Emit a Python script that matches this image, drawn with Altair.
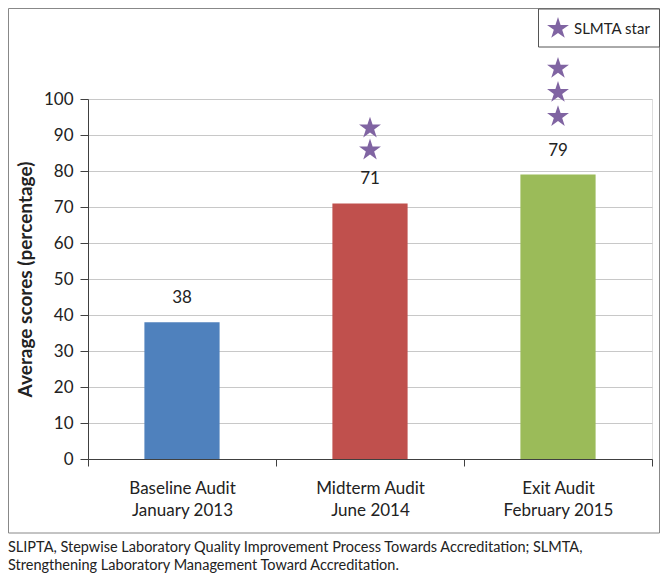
import altair as alt
import pandas as pd

# ---- data ----
audits = ["Baseline Audit", "Midterm Audit", "Exit Audit"]
dates = ["January 2013", "June 2014", "February 2015"]
scores = [38, 71, 79]
bar_colors = ["#4F81BD", "#C0504D", "#9BBB59"]
y_ticks = [0, 10, 20, 30, 40, 50, 60, 70, 80, 90, 100]

star_audits = ["Midterm Audit", "Midterm Audit", "Exit Audit", "Exit Audit", "Exit Audit"]
star_levels = [85.8, 91.9, 95.1, 101.8, 108.5]
legend_label = "SLMTA star"

caption_lines = [
    "SLIPTA, Stepwise Laboratory Quality Improvement Process Towards Accreditation; SLMTA,",
    "Strengthening Laboratory Management Toward Accreditation.",
]
y_title = "Average scores (percentage)"

FONT = "Lato"
TXT = "#222222"
STAR = ("M0,-1 L0.2245,-0.309 L0.951,-0.309 L0.363,0.118 L0.588,0.809 "
        "L0,0.382 L-0.588,0.809 L-0.363,0.118 L-0.951,-0.309 L-0.2245,-0.309 Z")

labels = [a + "\n" + d for a, d in zip(audits, dates)]
bars_df = pd.DataFrame({"cat": labels, "score": scores, "color": bar_colors})
lab_map = dict(zip(audits, labels))
stars_df = pd.DataFrame({"cat": [lab_map[a] for a in star_audits],
                         "level": star_levels,
                         "key": [legend_label] * len(star_levels)})
cap_df = pd.DataFrame({"text": ["\n".join(caption_lines)]})
frame_df = pd.DataFrame({"k": [0]})

W, H = 564, 360
PL, PT, PR, PB = 80, 91, 8, 115

x_enc = alt.X("cat:N", sort=labels, title=None,
              scale=alt.Scale(paddingInner=0, paddingOuter=0),
              axis=alt.Axis(labelExpr="split(datum.label, '\\n')", labelAngle=0,
                            tickBand="extent", tickSize=7, tickColor="#404040",
                            domainColor="#404040", labelFontSize=17, labelFont=FONT,
                            labelColor=TXT, labelPadding=14, labelLineHeight=22,
                            grid=False))
y_scale = alt.Scale(domain=[0, 100], nice=False)

bars = alt.Chart(bars_df).mark_bar(width=alt.RelativeBandSize(0.4)).encode(
    x=x_enc,
    y=alt.Y("score:Q", scale=y_scale,
            axis=alt.Axis(values=y_ticks, tickCount=20, labelOverlap=False, title=y_title,
                          titleFont=FONT, titleFontSize=19, titleFontWeight="bold",
                          titleColor=TXT, titleAngle=-90, titleX=-63, titleY=180,
                          titleAlign="center", titleBaseline="middle",
                          labelFont=FONT, labelFontSize=17, labelColor=TXT,
                          labelPadding=7, tickSize=8, tickColor="#404040",
                          domainColor="#404040", gridColor="#C8C8C8")),
    color=alt.Color("color:N", scale=None),
)

values = alt.Chart(bars_df).mark_text(dy=-24, baseline="middle", font=FONT,
                                      fontSize=17, color=TXT).encode(
    x=alt.X("cat:N", sort=labels),
    y=alt.Y("score:Q", scale=y_scale),
    text="score:Q",
)

stars = alt.Chart(stars_df).mark_point(shape=STAR, filled=True, size=530,
                                       opacity=1, clip=False).encode(
    x=alt.X("cat:N", sort=labels),
    y=alt.Y("level:Q", scale=y_scale),
    color=alt.Color("key:N", scale=alt.Scale(domain=[legend_label], range=["#8064A2"]),
                    legend=alt.Legend(orient="none", legendX=450, legendY=-90.5,
                                      title=None, symbolType=STAR, symbolSize=530,
                                      symbolOpacity=1, symbolStrokeWidth=0,
                                      strokeColor="#555555", fillColor="white",
                                      padding=8, labelFont=FONT, labelFontSize=15,
                                      labelColor=TXT, labelOffset=4)),
)

frame = alt.Chart(frame_df).mark_rect(fill=None, stroke="#888888", strokeWidth=1).encode(
    x=alt.value(-PL + 0.5), x2=alt.value(W + PR - 0.5),
    y=alt.value(-PT + 0.5), y2=alt.value(434),
)

caption = alt.Chart(cap_df).mark_text(align="left", baseline="middle", lineBreak="\n",
                                      lineHeight=18, font=FONT, fontSize=14.5,
                                      color=TXT).encode(
    x=alt.value(-PL), y=alt.value(449), text="text:N",
)

chart = alt.layer(frame, bars, values, stars, caption).properties(
    width=W, height=H,
    autosize=alt.AutoSizeParams(type="none"),
    padding={"left": PL, "top": PT, "right": PR, "bottom": PB},
).configure_view(stroke=None).configure(background="white")

chart.save("out.html", embed_options={"renderer": "svg", "actions": False})
